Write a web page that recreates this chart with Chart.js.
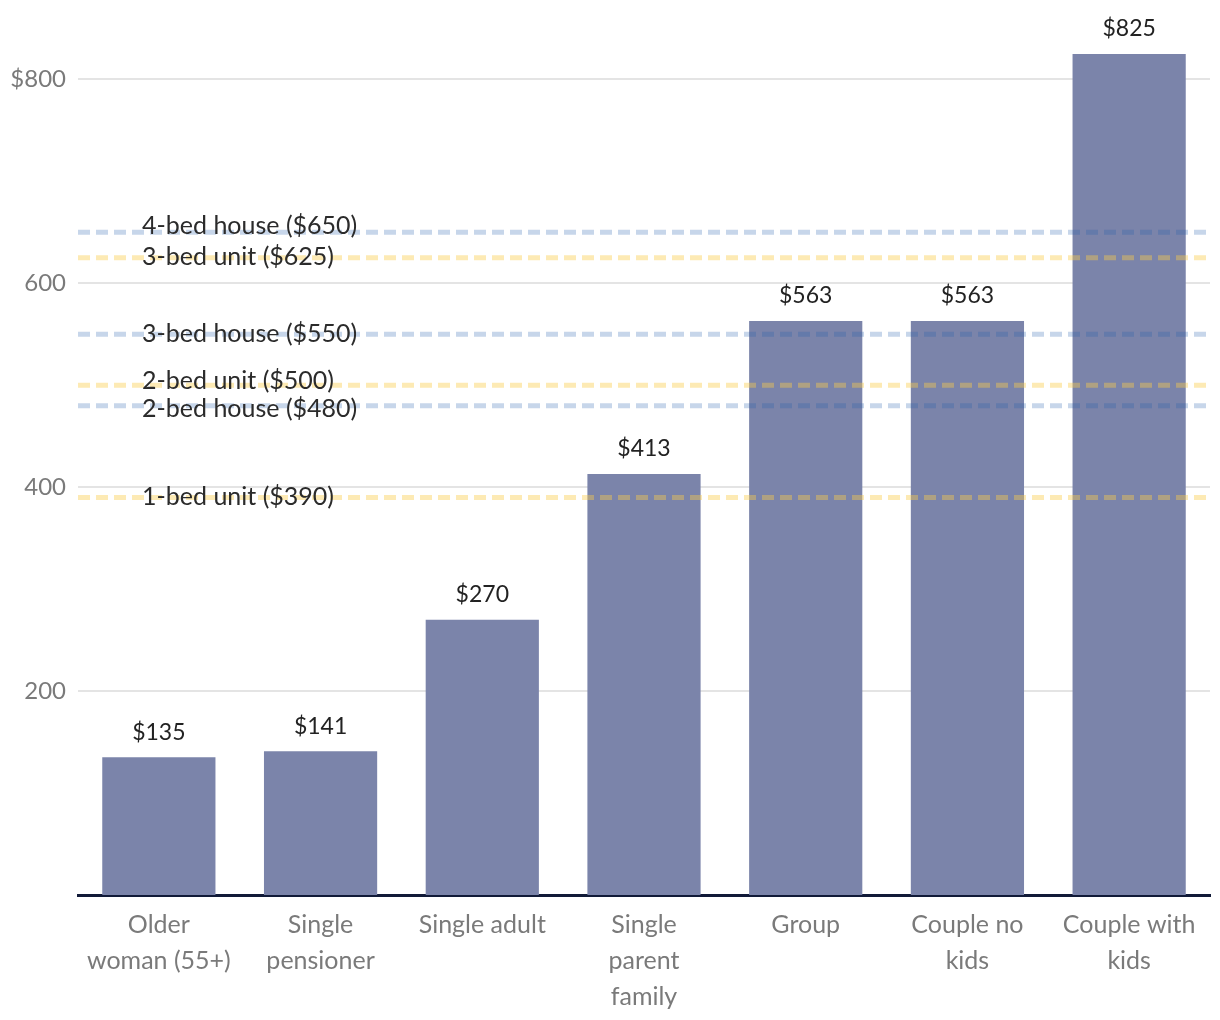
<!DOCTYPE html>
<html>
<head>
<meta charset="utf-8">
<script src="https://cdn.jsdelivr.net/npm/chart.js@4/dist/chart.umd.min.js"></script>
<style>
  html, body { margin: 0; padding: 0; background: #ffffff; }
  #wrap { width: 1220px; height: 1020px; }
</style>
</head>
<body>
<div id="wrap"><canvas id="c" width="1220" height="1020"></canvas></div>
<script>
// ---- data ----
const categories = [
  ["Older", "woman (55+)"],
  ["Single", "pensioner"],
  "Single adult",
  ["Single", "parent", "family"],
  "Group",
  ["Couple no", "kids"],
  ["Couple with", "kids"]
];
const rentValues = [135, 141, 270, 413, 563, 563, 825];
const yTicks = [200, 400, 600, 800];

const thresholdNames = ["4-bed house", "3-bed unit", "3-bed house", "2-bed unit", "2-bed house", "1-bed unit"];
const thresholdValues = [650, 625, 550, 500, 480, 390];
const thresholdKinds = ["house", "unit", "house", "unit", "house", "unit"];

// ---- styles ----
const FONT = "Lato, 'Open Sans', sans-serif";
const kindColor = { house: "rgba(30, 90, 170, 0.25)", unit: "rgba(250, 204, 72, 0.41)" };
const labelNudge = [-6, -1, 0, -4, 3, 0]; // vertical nudges so labels don't collide

const thresholdPlugin = {
  id: "thresholds",
  afterDatasetsDraw(chart) {
    const { ctx, chartArea, scales } = chart;
    const y = scales.y;
    ctx.save();
    thresholdValues.forEach((v, i) => {
      const py = y.getPixelForValue(v);
      ctx.beginPath();
      ctx.setLineDash([12, 6]);
      ctx.lineWidth = 5;
      ctx.strokeStyle = kindColor[thresholdKinds[i]];
      ctx.moveTo(chartArea.left, py);
      ctx.lineTo(chartArea.right, py);
      ctx.stroke();
    });
    ctx.setLineDash([]);
    ctx.fillStyle = "#2b2b2b";
    ctx.font = "25px " + FONT;
    ctx.textAlign = "left";
    ctx.textBaseline = "middle";
    thresholdValues.forEach((v, i) => {
      const py = y.getPixelForValue(v) + labelNudge[i];
      ctx.fillText(thresholdNames[i] + " ($" + v + ")", chartArea.left + 64, py);
    });
    ctx.restore();
  }
};

const valueLabelPlugin = {
  id: "valueLabels",
  afterDatasetsDraw(chart) {
    const { ctx } = chart;
    const meta = chart.getDatasetMeta(0);
    ctx.save();
    ctx.fillStyle = "#222222";
    ctx.font = "23px " + FONT;
    ctx.textAlign = "center";
    ctx.textBaseline = "middle";
    meta.data.forEach((bar, i) => {
      ctx.fillText("$" + rentValues[i], bar.x, bar.y - 25);
    });
    ctx.restore();
  }
};

new Chart(document.getElementById("c"), {
  type: "bar",
  data: {
    labels: categories,
    datasets: [{
      data: rentValues,
      backgroundColor: "#7b84aa",
      borderWidth: 0,
      barPercentage: 0.7,
      categoryPercentage: 1.0
    }]
  },
  options: {
    responsive: false,
    animation: false,
    layout: { padding: { top: 7, right: 10, left: 0, bottom: 0 } },
    plugins: { legend: { display: false }, tooltip: { enabled: false } },
    scales: {
      x: {
        grid: { display: false, drawTicks: false },
        border: { display: true, color: "#111a38", width: 3 },
        ticks: {
          color: "#7a7a7a",
          font: { family: FONT, size: 25, lineHeight: 1.44 },
          padding: 12,
          maxRotation: 0,
          autoSkip: false
        },
        afterFit(scale) { scale.height = 125; }
      },
      y: {
        min: 0,
        max: 852,
        afterBuildTicks(scale) { scale.ticks = yTicks.map(v => ({ value: v })); },
        grid: { color: "#e4e4e4", lineWidth: 2, drawTicks: false },
        border: { display: false },
        ticks: {
          color: "#7a7a7a",
          font: { family: FONT, size: 24 },
          padding: 12,
          callback: (v) => (v === 800 ? "$" + v : String(v))
        },
        afterFit(scale) { scale.width = 78; }
      }
    }
  },
  plugins: [thresholdPlugin, valueLabelPlugin]
});
</script>
</body>
</html>
